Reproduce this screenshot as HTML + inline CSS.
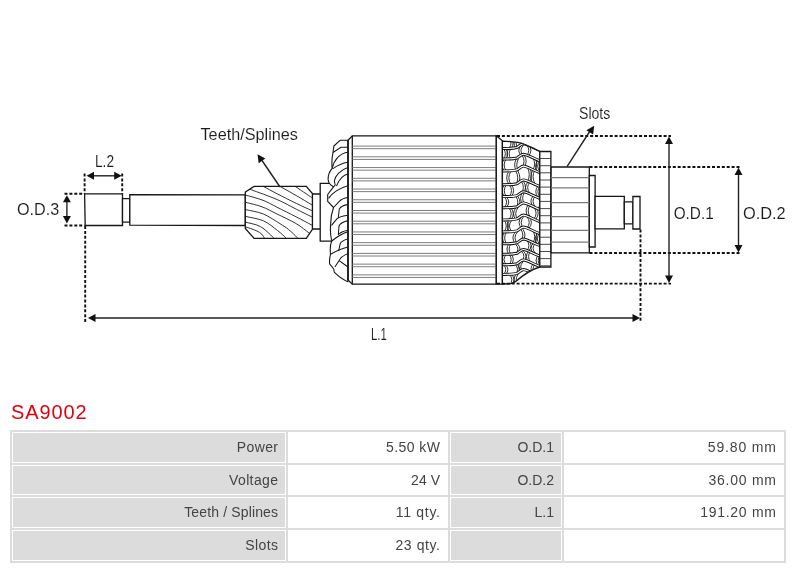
<!DOCTYPE html>
<html><head><meta charset="utf-8">
<style>
html,body{margin:0;padding:0;background:#fff;width:800px;height:569px;overflow:hidden;position:relative;font-family:"Liberation Sans",sans-serif;}
svg.draw{position:absolute;left:0;top:0;will-change:transform;}
.title{position:absolute;left:11px;top:400px;font-size:20px;color:#e1000f;letter-spacing:0.9px;line-height:24px;white-space:nowrap;}
.tbl{position:absolute;left:10px;top:430px;width:776px;height:133px;background:#dcdcdc;}
.c{position:absolute;box-sizing:border-box;border:1px solid #fff;text-align:right;font-size:14px;color:#444;padding-right:7px;line-height:29px;white-space:nowrap;}
.g{background:#dcdcdc;}
.w{background:#fff;}
</style></head><body>
<div id="wrap" style="position:absolute;left:0;top:0;width:800px;height:569px;will-change:transform;background:#fff">
<svg class="draw" width="800" height="400" viewBox="0 0 800 400">
<g stroke="#161616" stroke-width="1.3" fill="#fff" stroke-linejoin="miter">
<path d="M84.6 193.9 H122.5 V225.5 H85.2 Z"/>
<path d="M122.5 198.7 H129.8 V222.1 H122.5 Z"/>
<path d="M129.8 194.6 L245.3 194.9 L245.3 225.5 L129.8 225.2 Z"/>
<path d="M312.4 194 H321 V229 H312.4 Z"/>
<path d="M320.2 183.4 H334 V241.1 H320.2 Z"/>
</g>
<clipPath id="gclip"><path d="M245.3 192 L254.1 186.4 L306.3 186.4 L312.4 193.5 L312.4 229.4 L306.3 238.4 L254.1 238.4 L245.3 228.4 Z"/></clipPath>
<path d="M245.3 192 L254.1 186.4 L306.3 186.4 L312.4 193.5 L312.4 229.4 L306.3 238.4 L254.1 238.4 L245.3 228.4 Z" fill="#fff"/>
<g clip-path="url(#gclip)" stroke="#1c1c1c" stroke-width="0.9" fill="none">
<path d="M290.00 183.00 C290.90 183.58 291.77 184.07 295.40 186.50 C299.03 188.93 308.37 195.35 311.80 197.60 C315.23 199.85 315.30 199.60 316.00 200.00"/>
<path d="M275.00 183.50 C275.98 184.07 277.35 184.88 280.90 186.90 C284.45 188.92 291.15 192.62 296.30 195.60 C301.45 198.58 308.52 202.90 311.80 204.80 C315.08 206.70 315.30 206.63 316.00 207.00"/>
<path d="M255.00 183.00 C256.40 183.58 259.73 184.72 263.40 186.50 C267.07 188.28 271.52 190.88 277.00 193.70 C282.48 196.52 290.50 200.58 296.30 203.40 C302.10 206.22 308.52 209.08 311.80 210.60 C315.08 212.12 315.30 212.18 316.00 212.50"/>
<path d="M242.00 186.80 C243.55 187.30 245.47 187.68 251.30 189.80 C257.13 191.92 269.50 196.27 277.00 199.50 C284.50 202.73 290.50 206.30 296.30 209.20 C302.10 212.10 308.52 215.27 311.80 216.90 C315.08 218.53 315.30 218.65 316.00 219.00"/>
<path d="M240.00 193.80 C240.98 194.03 242.07 194.12 245.90 195.20 C249.73 196.28 257.82 198.30 263.00 200.30 C268.18 202.30 271.45 204.43 277.00 207.20 C282.55 209.97 290.50 213.92 296.30 216.90 C302.10 219.88 308.52 223.33 311.80 225.10 C315.08 226.87 315.30 227.10 316.00 227.50"/>
<path d="M240.00 201.00 C240.98 201.23 242.23 201.43 245.90 202.40 C249.57 203.37 256.82 204.87 262.00 206.80 C267.18 208.73 271.28 211.18 277.00 214.00 C282.72 216.82 290.98 220.55 296.30 223.70 C301.62 226.85 305.95 230.68 308.90 232.90 C311.85 235.12 313.15 236.32 314.00 237.00"/>
<path d="M240.00 208.40 C240.98 208.62 242.00 208.77 245.90 209.70 C249.80 210.63 257.72 211.67 263.40 214.00 C269.08 216.33 275.80 221.12 280.00 223.70 C284.20 226.28 285.72 227.17 288.60 229.50 C291.48 231.83 295.40 235.78 297.30 237.70 C299.20 239.62 299.55 240.45 300.00 241.00"/>
<path d="M240.00 215.00 C240.98 215.25 242.00 215.53 245.90 216.50 C249.80 217.47 258.13 218.47 263.40 220.80 C268.67 223.13 273.78 227.68 277.50 230.50 C281.22 233.32 283.95 235.95 285.70 237.70 C287.45 239.45 287.62 240.45 288.00 241.00"/>
<path d="M240.00 221.00 C240.98 221.22 242.48 221.37 245.90 222.30 C249.32 223.23 255.98 224.10 260.50 226.60 C265.02 229.10 270.58 234.90 273.00 237.30 C275.42 239.70 274.67 240.38 275.00 241.00"/>
<path d="M240.00 226.00 C241.32 226.27 244.65 226.53 247.90 227.60 C251.15 228.67 256.77 230.70 259.50 232.40 C262.23 234.10 263.22 236.37 264.30 237.80 C265.38 239.23 265.72 240.47 266.00 241.00"/>
</g>
<path d="M245.3 192 L254.1 186.4 L306.3 186.4 L312.4 193.5 L312.4 229.4 L306.3 238.4 L254.1 238.4 L245.3 228.4 Z" fill="none" stroke="#161616" stroke-width="1.3"/>
<path d="M348 140.2 L352.3 135.8 L496.3 135.8 L496.3 284.2 L352.3 284.2 L348 280 Z" fill="#fff" stroke="#161616" stroke-width="1.3"/>
<path d="M352.3 135.8 V284.2" stroke="#161616" stroke-width="1.3"/>
<g stroke="#777" stroke-width="0.95">
<path d="M352.3 146.10 H496.3 M352.3 148.70 H496.3"/>
<path d="M352.3 156.83 H496.3 M352.3 159.43 H496.3"/>
<path d="M352.3 167.56 H496.3 M352.3 170.16 H496.3"/>
<path d="M352.3 178.29 H496.3 M352.3 180.89 H496.3"/>
<path d="M352.3 189.02 H496.3 M352.3 191.62 H496.3"/>
<path d="M352.3 199.75 H496.3 M352.3 202.35 H496.3"/>
<path d="M352.3 210.48 H496.3 M352.3 213.08 H496.3"/>
<path d="M352.3 221.21 H496.3 M352.3 223.81 H496.3"/>
<path d="M352.3 231.94 H496.3 M352.3 234.54 H496.3"/>
<path d="M352.3 242.67 H496.3 M352.3 245.27 H496.3"/>
<path d="M352.3 253.40 H496.3 M352.3 256.00 H496.3"/>
<path d="M352.3 264.13 H496.3 M352.3 266.73 H496.3"/>
<path d="M352.3 274.86 H496.3 M352.3 277.46 H496.3"/>
</g>
<clipPath id="lwclip"><path d="M347.8 140.3 L340 140.3 L333.9 146 L333 152.2 Q331.4 160 332.1 168.4 Q327.6 174 328.2 180 Q328.5 184 333.5 186.8 L327.7 194.5 L327.7 201.3 L333.5 207.5 Q330.5 216 330.6 225.4 Q329.8 232 331.7 241 Q329.6 246 330.5 254.3 Q329.2 259 329.6 263.8 L333.8 269 L334.2 272.2 Q341 279 347.8 281.7 Z"/></clipPath>
<path d="M347.8 140.3 L340 140.3 L333.9 146 L333 152.2 Q331.4 160 332.1 168.4 Q327.6 174 328.2 180 Q328.5 184 333.5 186.8 L327.7 194.5 L327.7 201.3 L333.5 207.5 Q330.5 216 330.6 225.4 Q329.8 232 331.7 241 Q329.6 246 330.5 254.3 Q329.2 259 329.6 263.8 L333.8 269 L334.2 272.2 Q341 279 347.8 281.7 Z" fill="#fff" stroke="none"/>
<g clip-path="url(#lwclip)" stroke="#161616" stroke-width="1.05" fill="none">
<path d="M348 147.3 H340.9 L333 152.5"/>
<path d="M348 152.2 C340 153 334 160 332.1 168.4"/>
<path d="M348 162.3 C343 163 338 165 332.6 168.9"/>
<path d="M348 167.5 C340 170 335 176 334.3 181 L335.2 185 L333.5 186.8"/>
<path d="M348 174 C343 175 339 180 336.5 186"/>
<path d="M348 185.8 C340 188 333 192 328.6 198.4"/>
<path d="M348 197.4 C344 198 341 199.5 339.3 201.3 L333.5 207.5"/>
<path d="M348 204.6 C344 205 341 206.5 339.3 209 L338.3 217.7"/>
<path d="M348 215.3 C342 216 337 218 335.4 220.6 L331.5 225.4"/>
<path d="M348 220.6 C343 222 340 223 339 226 L338.3 235"/>
<path d="M348 230.2 C343 231 340 233 339 234"/>
<path d="M348 231.6 C344 233 338 236 331.7 241"/>
<path d="M348 239 C344 240 341 241.5 340.2 243.7 L338.6 251.1"/>
<path d="M348 246.9 C343 248 336 251 330.5 254.3"/>
<path d="M348 253.8 C344 255 340.5 258 339.1 260.6 L334.9 267"/>
<path d="M339.1 260.6 L348 267"/>
</g>
<path d="M347.8 140.3 L340 140.3 L333.9 146 L333 152.2 Q331.4 160 332.1 168.4 Q327.6 174 328.2 180 Q328.5 184 333.5 186.8 L327.7 194.5 L327.7 201.3 L333.5 207.5 Q330.5 216 330.6 225.4 Q329.8 232 331.7 241 Q329.6 246 330.5 254.3 Q329.2 259 329.6 263.8 L333.8 269 L334.2 272.2 Q341 279 347.8 281.7 Z" fill="none" stroke="#161616" stroke-width="1.1" stroke-linejoin="round"/>
<path d="M348 140.2 V280" stroke="#161616" stroke-width="1.3"/>
<path d="M496.3 135.8 L502.4 140.8 V284.2 H496.3 Z" fill="#fff" stroke="#161616" stroke-width="1.3"/>
<clipPath id="wclip"><path d="M502.4 141.2 C512 141.5 520 142.5 524 144 C530 146 535 149.5 539.8 151.3 L539.8 267 C531 269.5 522 276 515 282 L510 283.8 L502.4 284 Z"/></clipPath>
<path d="M502.4 141.2 C512 141.5 520 142.5 524 144 C530 146 535 149.5 539.8 151.3 L539.8 267 C531 269.5 522 276 515 282 L510 283.8 L502.4 284 Z" fill="#fff"/>
<g clip-path="url(#wclip)" fill="none" stroke="#1a1a1a" stroke-width="0.9">
<path d="M509.2 137.5 Q512.8 143.0 509.2 148.5"/>
<path d="M511.3 137.5 Q514.9 143.0 511.3 148.5"/>
<path d="M515.7 137.5 Q512.4 143.0 515.7 148.5"/>
<path d="M517.8 137.5 Q514.5 143.0 517.8 148.5"/>
<path d="M527.6 134.3 Q523.5 139.8 527.6 145.3"/>
<path d="M529.7 134.3 Q525.6 139.8 529.7 145.3"/>
<path d="M532.8 136.4 Q537.2 141.9 532.8 147.4"/>
<path d="M534.9 136.4 Q539.3 141.9 534.9 147.4"/>
<path d="M503.3 148.5 Q507.5 153.8 503.3 159.0"/>
<path d="M505.4 148.5 Q509.6 153.8 505.4 159.0"/>
<path d="M508.8 148.5 Q505.4 153.8 508.8 159.0"/>
<path d="M510.9 148.5 Q507.5 153.8 510.9 159.0"/>
<path d="M521.4 145.3 Q516.2 150.5 521.4 155.8"/>
<path d="M523.5 145.3 Q518.3 150.5 523.5 155.8"/>
<path d="M526.9 145.1 Q530.6 150.3 526.9 155.6"/>
<path d="M529.0 145.1 Q532.7 150.3 529.0 155.6"/>
<path d="M538.7 149.8 Q544.2 155.0 538.7 160.3"/>
<path d="M540.8 149.8 Q546.3 155.0 540.8 160.3"/>
<path d="M504.1 159.0 Q500.0 164.9 504.1 170.9"/>
<path d="M506.2 159.0 Q502.1 164.9 506.2 170.9"/>
<path d="M516.3 159.0 Q513.0 164.9 516.3 170.9"/>
<path d="M518.4 159.0 Q515.1 164.9 518.4 170.9"/>
<path d="M522.1 155.3 Q526.0 161.2 522.1 167.2"/>
<path d="M524.2 155.3 Q528.1 161.2 524.2 167.2"/>
<path d="M532.9 158.0 Q536.4 163.9 532.9 169.9"/>
<path d="M535.0 158.0 Q538.5 163.9 535.0 169.9"/>
<path d="M538.2 160.1 Q533.0 166.0 538.2 172.0"/>
<path d="M540.3 160.1 Q535.1 166.0 540.3 172.0"/>
<path d="M509.0 170.9 Q504.4 177.8 509.0 184.7"/>
<path d="M511.1 170.9 Q506.5 177.8 511.1 184.7"/>
<path d="M515.7 170.9 Q519.8 177.8 515.7 184.7"/>
<path d="M517.8 170.9 Q521.9 177.8 517.8 184.7"/>
<path d="M527.6 167.7 Q530.9 174.6 527.6 181.5"/>
<path d="M529.7 167.7 Q533.0 174.6 529.7 181.5"/>
<path d="M532.8 169.8 Q529.1 176.7 532.8 183.6"/>
<path d="M534.9 169.8 Q531.2 176.7 534.9 183.6"/>
<path d="M504.3 184.7 Q500.1 190.6 504.3 196.6"/>
<path d="M506.4 184.7 Q502.2 190.6 506.4 196.6"/>
<path d="M509.2 184.7 Q513.8 190.6 509.2 196.6"/>
<path d="M511.3 184.7 Q515.9 190.6 511.3 196.6"/>
<path d="M521.4 181.4 Q525.3 187.4 521.4 193.3"/>
<path d="M523.5 181.4 Q527.4 187.4 523.5 193.3"/>
<path d="M528.0 181.7 Q523.1 187.6 528.0 193.6"/>
<path d="M530.1 181.7 Q525.2 187.6 530.1 193.6"/>
<path d="M538.1 185.7 Q533.5 191.7 538.1 197.6"/>
<path d="M540.2 185.7 Q535.6 191.7 540.2 197.6"/>
<path d="M504.0 196.6 Q509.3 202.1 504.0 207.7"/>
<path d="M506.1 196.6 Q511.4 202.1 506.1 207.7"/>
<path d="M515.9 196.6 Q519.8 202.1 515.9 207.7"/>
<path d="M518.0 196.6 Q521.9 202.1 518.0 207.7"/>
<path d="M522.3 192.7 Q518.8 198.3 522.3 203.8"/>
<path d="M524.4 192.7 Q520.9 198.3 524.4 203.8"/>
<path d="M533.4 195.7 Q528.4 201.3 533.4 206.8"/>
<path d="M535.5 195.7 Q530.5 201.3 535.5 206.8"/>
<path d="M537.9 197.6 Q542.3 203.1 537.9 208.7"/>
<path d="M540.0 197.6 Q544.4 203.1 540.0 208.7"/>
<path d="M508.8 207.7 Q513.6 213.8 508.8 219.9"/>
<path d="M510.9 207.7 Q515.7 213.8 510.9 219.9"/>
<path d="M515.9 207.7 Q511.3 213.8 515.9 219.9"/>
<path d="M518.0 207.7 Q513.4 213.8 518.0 219.9"/>
<path d="M528.1 204.7 Q524.1 210.8 528.1 216.9"/>
<path d="M530.2 204.7 Q526.2 210.8 530.2 216.9"/>
<path d="M533.8 207.0 Q538.4 213.1 533.8 219.2"/>
<path d="M535.9 207.0 Q540.5 213.1 535.9 219.2"/>
<path d="M504.1 219.9 Q508.4 225.9 504.1 231.9"/>
<path d="M506.2 219.9 Q510.5 225.9 506.2 231.9"/>
<path d="M510.0 219.9 Q504.6 225.9 510.0 231.9"/>
<path d="M512.1 219.9 Q506.7 225.9 512.1 231.9"/>
<path d="M521.5 216.6 Q516.7 222.6 521.5 228.6"/>
<path d="M523.6 216.6 Q518.8 222.6 523.6 228.6"/>
<path d="M526.8 216.4 Q531.7 222.4 526.8 228.4"/>
<path d="M528.9 216.4 Q533.8 222.4 528.9 228.4"/>
<path d="M538.7 221.2 Q544.3 227.2 538.7 233.2"/>
<path d="M540.8 221.2 Q546.4 227.2 540.8 233.2"/>
<path d="M504.5 231.9 Q500.6 237.9 504.5 243.8"/>
<path d="M506.6 231.9 Q502.7 237.9 506.6 243.8"/>
<path d="M515.3 231.9 Q510.5 237.9 515.3 243.8"/>
<path d="M517.4 231.9 Q512.6 237.9 517.4 243.8"/>
<path d="M520.7 229.1 Q525.0 235.1 520.7 241.0"/>
<path d="M522.8 229.1 Q527.1 235.1 522.8 241.0"/>
<path d="M533.0 230.9 Q536.4 236.8 533.0 242.8"/>
<path d="M535.1 230.9 Q538.5 236.8 535.1 242.8"/>
<path d="M537.8 232.8 Q532.8 238.8 537.8 244.7"/>
<path d="M539.9 232.8 Q534.9 238.8 539.9 244.7"/>
<path d="M508.9 243.8 Q505.1 249.1 508.9 254.3"/>
<path d="M511.0 243.8 Q507.2 249.1 511.0 254.3"/>
<path d="M515.3 243.8 Q520.6 249.1 515.3 254.3"/>
<path d="M517.4 243.8 Q522.7 249.1 517.4 254.3"/>
<path d="M526.8 240.3 Q531.1 245.6 526.8 250.8"/>
<path d="M528.9 240.3 Q533.2 245.6 528.9 250.8"/>
<path d="M533.6 243.0 Q528.3 248.3 533.6 253.5"/>
<path d="M535.7 243.0 Q530.4 248.3 535.7 253.5"/>
<path d="M504.5 254.3 Q499.2 259.5 504.5 264.7"/>
<path d="M506.6 254.3 Q501.3 259.5 506.6 264.7"/>
<path d="M509.1 254.3 Q513.3 259.5 509.1 264.7"/>
<path d="M511.2 254.3 Q515.4 259.5 511.2 264.7"/>
<path d="M521.3 251.1 Q526.6 256.3 521.3 261.5"/>
<path d="M523.4 251.1 Q528.7 256.3 523.4 261.5"/>
<path d="M528.2 251.4 Q524.7 256.6 528.2 261.8"/>
<path d="M530.3 251.4 Q526.8 256.6 530.3 261.8"/>
<path d="M538.0 255.3 Q534.2 260.5 538.0 265.7"/>
<path d="M540.1 255.3 Q536.3 260.5 540.1 265.7"/>
<path d="M503.6 264.7 Q507.9 269.5 503.6 274.4"/>
<path d="M505.7 264.7 Q510.0 269.5 505.7 274.4"/>
<path d="M515.6 264.7 Q519.5 269.5 515.6 274.4"/>
<path d="M517.7 264.7 Q521.6 269.5 517.7 274.4"/>
<path d="M520.7 262.0 Q516.5 266.8 520.7 271.7"/>
<path d="M522.8 262.0 Q518.6 266.8 522.8 271.7"/>
<path d="M533.3 263.8 Q528.7 268.7 533.3 273.5"/>
<path d="M535.4 263.8 Q530.8 268.7 535.4 273.5"/>
<path d="M539.2 266.2 Q544.1 271.0 539.2 275.9"/>
<path d="M541.3 266.2 Q546.2 271.0 541.3 275.9"/>
<path d="M509.5 274.4 Q514.2 279.7 509.5 285.0"/>
<path d="M511.6 274.4 Q516.3 279.7 511.6 285.0"/>
<path d="M515.8 274.4 Q512.5 279.7 515.8 285.0"/>
<path d="M517.9 274.4 Q514.6 279.7 517.9 285.0"/>
<path d="M528.1 271.5 Q523.1 276.8 528.1 282.1"/>
<path d="M530.2 271.5 Q525.2 276.8 530.2 282.1"/>
<path d="M534.1 273.8 Q539.2 279.1 534.1 284.4"/>
<path d="M536.2 273.8 Q541.3 279.1 536.2 284.4"/>
<path d="M503.8 285.0 Q508.0 290.5 503.8 296.0"/>
<path d="M505.9 285.0 Q510.1 290.5 505.9 296.0"/>
<path d="M508.9 285.0 Q504.1 290.5 508.9 296.0"/>
<path d="M511.0 285.0 Q506.2 290.5 511.0 296.0"/>
<path d="M520.8 282.2 Q517.4 287.7 520.8 293.2"/>
<path d="M522.9 282.2 Q519.5 287.7 522.9 293.2"/>
<path d="M527.0 281.6 Q530.6 287.1 527.0 292.6"/>
<path d="M529.1 281.6 Q532.7 287.1 529.1 292.6"/>
<path d="M538.2 286.1 Q541.6 291.6 538.2 297.1"/>
<path d="M540.3 286.1 Q543.7 291.6 540.3 297.1"/>
</g>
<g clip-path="url(#wclip)" fill="none">
<path d="M500 137.5 C508 137.5 513 137.7 517 136.5 C520 134.5 521.5 132.7 523.5 132.7 C527 132.7 533 137.0 543 140.5" stroke="#111" stroke-width="3.0"/>
<path d="M500 137.5 C508 137.5 513 137.7 517 136.5 C520 134.5 521.5 132.7 523.5 132.7 C527 132.7 533 137.0 543 140.5" stroke="#fff" stroke-width="1.1"/>
<path d="M500 148.5 C508 148.5 513 148.7 517 147.5 C520 145.5 521.5 143.7 523.5 143.7 C527 143.7 533 148.0 543 151.5" stroke="#111" stroke-width="3.0"/>
<path d="M500 148.5 C508 148.5 513 148.7 517 147.5 C520 145.5 521.5 143.7 523.5 143.7 C527 143.7 533 148.0 543 151.5" stroke="#fff" stroke-width="1.1"/>
<path d="M500 159.0 C508 159.0 513 159.2 517 158.0 C520 156.0 521.5 154.2 523.5 154.2 C527 154.2 533 158.5 543 162.0" stroke="#111" stroke-width="3.0"/>
<path d="M500 159.0 C508 159.0 513 159.2 517 158.0 C520 156.0 521.5 154.2 523.5 154.2 C527 154.2 533 158.5 543 162.0" stroke="#fff" stroke-width="1.1"/>
<path d="M500 170.9 C508 170.9 513 171.1 517 169.9 C520 167.9 521.5 166.1 523.5 166.1 C527 166.1 533 170.4 543 173.9" stroke="#111" stroke-width="3.0"/>
<path d="M500 170.9 C508 170.9 513 171.1 517 169.9 C520 167.9 521.5 166.1 523.5 166.1 C527 166.1 533 170.4 543 173.9" stroke="#fff" stroke-width="1.1"/>
<path d="M500 184.7 C508 184.7 513 184.9 517 183.7 C520 181.7 521.5 179.9 523.5 179.9 C527 179.9 533 184.2 543 187.7" stroke="#111" stroke-width="3.0"/>
<path d="M500 184.7 C508 184.7 513 184.9 517 183.7 C520 181.7 521.5 179.9 523.5 179.9 C527 179.9 533 184.2 543 187.7" stroke="#fff" stroke-width="1.1"/>
<path d="M500 196.6 C508 196.6 513 196.8 517 195.6 C520 193.6 521.5 191.8 523.5 191.8 C527 191.8 533 196.1 543 199.6" stroke="#111" stroke-width="3.0"/>
<path d="M500 196.6 C508 196.6 513 196.8 517 195.6 C520 193.6 521.5 191.8 523.5 191.8 C527 191.8 533 196.1 543 199.6" stroke="#fff" stroke-width="1.1"/>
<path d="M500 207.7 C508 207.7 513 207.9 517 206.7 C520 204.7 521.5 202.9 523.5 202.9 C527 202.9 533 207.2 543 210.7" stroke="#111" stroke-width="3.0"/>
<path d="M500 207.7 C508 207.7 513 207.9 517 206.7 C520 204.7 521.5 202.9 523.5 202.9 C527 202.9 533 207.2 543 210.7" stroke="#fff" stroke-width="1.1"/>
<path d="M500 219.9 C508 219.9 513 220.1 517 218.9 C520 216.9 521.5 215.1 523.5 215.1 C527 215.1 533 219.4 543 222.9" stroke="#111" stroke-width="3.0"/>
<path d="M500 219.9 C508 219.9 513 220.1 517 218.9 C520 216.9 521.5 215.1 523.5 215.1 C527 215.1 533 219.4 543 222.9" stroke="#fff" stroke-width="1.1"/>
<path d="M500 231.9 C508 231.9 513 232.1 517 230.9 C520 228.9 521.5 227.1 523.5 227.1 C527 227.1 533 231.4 543 234.9" stroke="#111" stroke-width="3.0"/>
<path d="M500 231.9 C508 231.9 513 232.1 517 230.9 C520 228.9 521.5 227.1 523.5 227.1 C527 227.1 533 231.4 543 234.9" stroke="#fff" stroke-width="1.1"/>
<path d="M500 243.8 C508 243.8 513 244.0 517 242.8 C520 240.8 521.5 239.0 523.5 239.0 C527 239.0 533 243.3 543 246.8" stroke="#111" stroke-width="3.0"/>
<path d="M500 243.8 C508 243.8 513 244.0 517 242.8 C520 240.8 521.5 239.0 523.5 239.0 C527 239.0 533 243.3 543 246.8" stroke="#fff" stroke-width="1.1"/>
<path d="M500 254.3 C508 254.3 513 254.5 517 253.3 C520 251.3 521.5 249.5 523.5 249.5 C527 249.5 533 253.8 543 257.3" stroke="#111" stroke-width="3.0"/>
<path d="M500 254.3 C508 254.3 513 254.5 517 253.3 C520 251.3 521.5 249.5 523.5 249.5 C527 249.5 533 253.8 543 257.3" stroke="#fff" stroke-width="1.1"/>
<path d="M500 264.7 C508 264.7 513 264.9 517 263.7 C520 261.7 521.5 259.9 523.5 259.9 C527 259.9 533 264.2 543 267.7" stroke="#111" stroke-width="3.0"/>
<path d="M500 264.7 C508 264.7 513 264.9 517 263.7 C520 261.7 521.5 259.9 523.5 259.9 C527 259.9 533 264.2 543 267.7" stroke="#fff" stroke-width="1.1"/>
<path d="M500 274.4 C508 274.4 513 274.6 517 273.4 C520 271.4 521.5 269.6 523.5 269.6 C527 269.6 533 273.9 543 277.4" stroke="#111" stroke-width="3.0"/>
<path d="M500 274.4 C508 274.4 513 274.6 517 273.4 C520 271.4 521.5 269.6 523.5 269.6 C527 269.6 533 273.9 543 277.4" stroke="#fff" stroke-width="1.1"/>
<path d="M500 285.0 C508 285.0 513 285.2 517 284.0 C520 282.0 521.5 280.2 523.5 280.2 C527 280.2 533 284.5 543 288.0" stroke="#111" stroke-width="3.0"/>
<path d="M500 285.0 C508 285.0 513 285.2 517 284.0 C520 282.0 521.5 280.2 523.5 280.2 C527 280.2 533 284.5 543 288.0" stroke="#fff" stroke-width="1.1"/>
</g>
<path d="M502.4 141.2 C512 141.5 520 142.5 524 144 C530 146 535 149.5 539.8 151.3 L539.8 267 C531 269.5 522 276 515 282 L510 283.8 L502.4 284 Z" fill="none" stroke="#161616" stroke-width="1.3"/>
<path d="M539.8 151.5 H550.9 V267 H539.8 Z" fill="#fff" stroke="#161616" stroke-width="1.3"/>
<g stroke="#333" stroke-width="0.9">
<path d="M539.8 158.5 H550.9"/>
<path d="M539.8 165.7 H550.9"/>
<path d="M539.8 172.8 H550.9"/>
<path d="M539.8 180.0 H550.9"/>
<path d="M539.8 187.1 H550.9"/>
<path d="M539.8 194.3 H550.9"/>
<path d="M539.8 201.4 H550.9"/>
<path d="M539.8 208.6 H550.9"/>
<path d="M539.8 215.7 H550.9"/>
<path d="M539.8 222.9 H550.9"/>
<path d="M539.8 230.0 H550.9"/>
<path d="M539.8 237.2 H550.9"/>
<path d="M539.8 244.3 H550.9"/>
<path d="M539.8 251.5 H550.9"/>
<path d="M539.8 258.6 H550.9"/>
<path d="M539.8 265.8 H550.9"/>
</g>
<g stroke="#161616" stroke-width="1.3" fill="#fff">
<path d="M551.1 167 H589.3 V252.8 H551.1 Z"/>
<path d="M589.3 175.5 H595.1 V247 H589.3 Z"/>
<path d="M595.1 196.4 H624.3 V228.8 H595.1 Z"/>
<path d="M624.3 201.8 H632.9 V223.9 H624.3 Z"/>
<path d="M632.9 196.5 H640 V229 H632.9 Z"/>
</g>
<g stroke="#7a7a7a" stroke-width="1.25">
<path d="M551.1 177.6 H589.3"/>
<path d="M551.1 187.8 H589.3"/>
<path d="M551.1 202.7 H589.3"/>
<path d="M551.1 216.6 H589.3"/>
<path d="M551.1 230.3 H589.3"/>
<path d="M551.1 242.2 H589.3"/>
</g>
<g stroke="#111" stroke-width="1.9" stroke-dasharray="3 1.9" fill="none">
<path d="M84.6 173.5 V193.5 M85.2 226 V322.5"/>
<path d="M122.2 173.5 V193.8"/>
<path d="M64.5 193.8 H84.5 M64.5 225.5 H84.5"/>
<path d="M497 136 H671 M497 283.6 H671"/>
<path d="M589.5 167 H740 M589.5 253 H740"/>
<path d="M640.5 229.5 V322.5"/>
</g>
<g stroke="#222" stroke-width="1.4" fill="none">
<path d="M93 175.8 H115"/>
<path d="M66.9 201 V217"/>
<path d="M95 318 H633"/>
<path d="M669 143 V276"/>
<path d="M738.5 174 V246"/>
<path d="M280 187 L261 159"/>
<path d="M567 166.7 L590 131"/>
</g>
<g fill="#111" stroke="none">
<path d="M86.5 175.8 L94 171.8 L94 179.8 Z"/>
<path d="M121.7 175.8 L114.2 171.8 L114.2 179.8 Z"/>
<path d="M66.9 195.3 L62.9 202.3 L70.9 202.3 Z"/>
<path d="M66.9 223.5 L62.9 216 L70.9 216 Z"/>
<path d="M88 318 L95.5 314 L95.5 322 Z"/>
<path d="M640 318 L632.5 314 L632.5 322 Z"/>
<path d="M669 136.5 L665 144 L673 144 Z"/>
<path d="M669 283 L665 275.5 L673 275.5 Z"/>
<path d="M738.5 167.5 L734.5 175 L742.5 175 Z"/>
<path d="M738.5 252.5 L734.5 245 L742.5 245 Z"/>
<path d="M257.5 154.3 L265.3 158.6 L258.7 163.2 Z"/>
<path d="M594.2 125.7 L593.1 134.6 L586.4 130.2 Z"/>
</g>
<text x="200.5" y="139.5" font-family="Liberation Sans" font-size="17" fill="#1a1a1a" stroke="#fff" stroke-width="0.1" lengthAdjust="spacingAndGlyphs" textLength="97.5">Teeth/Splines</text>
<text x="579" y="118.9" font-family="Liberation Sans" font-size="17" fill="#1a1a1a" stroke="#fff" stroke-width="0.1" lengthAdjust="spacingAndGlyphs" textLength="31.3">Slots</text>
<text x="95" y="167" font-family="Liberation Sans" font-size="17" fill="#1a1a1a" stroke="#fff" stroke-width="0.1" lengthAdjust="spacingAndGlyphs" textLength="19">L.2</text>
<text x="17" y="215.2" font-family="Liberation Sans" font-size="17" fill="#1a1a1a" stroke="#fff" stroke-width="0.1" lengthAdjust="spacingAndGlyphs" textLength="42.2">O.D.3</text>
<text x="673.7" y="219" font-family="Liberation Sans" font-size="17" fill="#1a1a1a" stroke="#fff" stroke-width="0.1" lengthAdjust="spacingAndGlyphs" textLength="40">O.D.1</text>
<text x="743" y="219" font-family="Liberation Sans" font-size="17" fill="#1a1a1a" stroke="#fff" stroke-width="0.1" lengthAdjust="spacingAndGlyphs" textLength="42.7">O.D.2</text>
<text x="371" y="340" font-family="Liberation Sans" font-size="17" fill="#1a1a1a" stroke="#fff" stroke-width="0.1" lengthAdjust="spacingAndGlyphs" textLength="15.8">L.1</text>
</svg>
<div class="title">SA9002</div>
<div class="tbl"></div>
<div class="c g" style="left:12px;top:432px;width:274px;height:31px;"><span style="letter-spacing:0.4px;margin-right:-0.4px">Power</span></div>
<div class="c w" style="left:288px;top:432px;width:160px;height:31px;"><span style="letter-spacing:0.43px;margin-right:-0.43px">5.50 kW</span></div>
<div class="c g" style="left:450px;top:432px;width:112px;height:31px;"><span style="letter-spacing:0px;margin-right:-0px">O.D.1</span></div>
<div class="c w" style="left:564px;top:432px;width:220px;height:31px;"><span style="letter-spacing:0.85px;margin-right:-0.85px">59.80 mm</span></div>

<div class="c g" style="left:12px;top:465px;width:274px;height:30px;"><span style="letter-spacing:0.37px;margin-right:-0.37px">Voltage</span></div>
<div class="c w" style="left:288px;top:465px;width:160px;height:30px;"><span style="letter-spacing:0.05px;margin-right:-0.05px">24 V</span></div>
<div class="c g" style="left:450px;top:465px;width:112px;height:30px;"><span style="letter-spacing:0px;margin-right:-0px">O.D.2</span></div>
<div class="c w" style="left:564px;top:465px;width:220px;height:30px;"><span style="letter-spacing:0.75px;margin-right:-0.75px">36.00 mm</span></div>

<div class="c g" style="left:12px;top:497px;width:274px;height:31px;"><span style="letter-spacing:0.14px;margin-right:-0.14px">Teeth / Splines</span></div>
<div class="c w" style="left:288px;top:497px;width:160px;height:31px;"><span style="letter-spacing:0.7px;margin-right:-0.7px">11 qty.</span></div>
<div class="c g" style="left:450px;top:497px;width:112px;height:31px;"><span style="letter-spacing:0px;margin-right:-0px">L.1</span></div>
<div class="c w" style="left:564px;top:497px;width:220px;height:31px;"><span style="letter-spacing:0.72px;margin-right:-0.72px">191.20 mm</span></div>

<div class="c g" style="left:12px;top:530px;width:274px;height:31px;"><span style="letter-spacing:0.42px;margin-right:-0.42px">Slots</span></div>
<div class="c w" style="left:288px;top:530px;width:160px;height:31px;"><span style="letter-spacing:0.6px;margin-right:-0.6px">23 qty.</span></div>
<div class="c g" style="left:450px;top:530px;width:112px;height:31px;"></div>
<div class="c w" style="left:564px;top:530px;width:220px;height:31px;"></div>
</div>
</body></html>
